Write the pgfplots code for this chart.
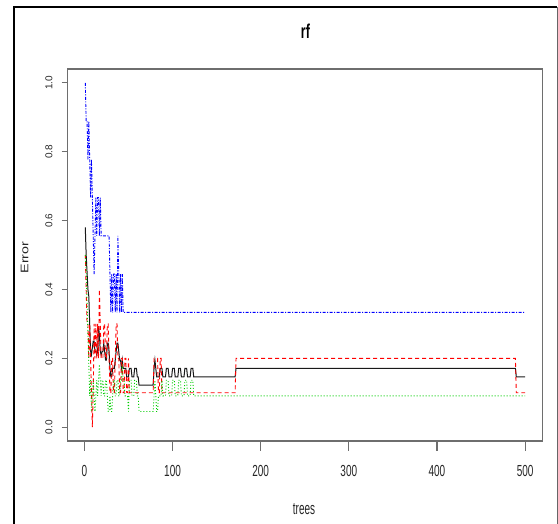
\documentclass[border=0pt]{standalone}
\usepackage{fontspec}
\setmainfont{Liberation Sans}
\usepackage{graphicx}
\usepackage{pgfplots}
\pgfplotsset{compat=1.18}
\definecolor{rgreen}{RGB}{0,205,0}
\definecolor{boxgray}{RGB}{110,110,110}
\newcommand{\hs}[1]{\scalebox{1}[1.6]{#1}}
\begin{document}
\begin{tikzpicture}
\begin{axis}[
  at={(0pt,0pt)}, anchor=south west,
  scale only axis, width=475pt, height=372pt,
  xmin=-18.96, xmax=519.96, ymin=-0.04, ymax=1.04,
  axis line style={boxgray, line width=1.2pt},
  tick align=outside, tick pos=left,
  major tick length=6pt,
  ytick style={boxgray, line width=1.2pt},
  xtick=\empty,
  ytick={0,0.2,0.4,0.6,0.8,1},
  yticklabels={0.0,0.2,0.4,0.6,0.8,1.0},
  yticklabel style={font=\fontsize{10}{12}\selectfont, text=black!85, rotate=90, anchor=south, inner sep=0pt},
  yticklabel shift=9pt,
  title={\scalebox{1}[1.6]{\bfseries rf}},
  title style={font=\fontsize{12.5}{14}\selectfont, at={(axis description cs:0.5006,1.1008)}, anchor=center, yshift=-6pt, inner sep=0pt},
  xlabel={\scalebox{1}[1.7]{trees}},
  xlabel style={font=\fontsize{10}{12}\selectfont, text=black!85, at={(axis description cs:0.4975,-0.1841)}, anchor=center, inner sep=0pt},
  ylabel={\scalebox{1.3}[1]{Error}},
  ylabel style={font=\fontsize{11}{13}\selectfont, text=black!85, at={(axis description cs:-0.0909,0.493)}, anchor=center, inner sep=0pt},
  clip=true,
]
% OOB error (black, solid)
\addplot[black!90, line width=1pt, mark=none] coordinates {
(1,0.58)(2,0.50)(3,0.45)(4,0.40)(5,0.38)(6,0.30)(7,0.22)(8,0.21)(9,0.23)(10,0.25)
(11,0.25)(12,0.22)(13,0.22)(14,0.21)(15,0.22)(16,0.29)(17,0.27)(18,0.22)(19,0.21)
(20,0.2195)(21,0.2195)(22,0.2439)(23,0.2195)(24,0.1951)(25,0.1951)(26,0.2439)(27,0.2439)(28,0.2195)(29,0.1707)(30,0.1463)
(31,0.1463)(32,0.1707)(33,0.1707)(34,0.1707)(35,0.1951)(36,0.2195)(37,0.2439)(38,0.2439)(39,0.2195)(40,0.1951)
(41,0.1951)(42,0.1707)(43,0.1951)(44,0.1707)(45,0.1707)(46,0.1707)(47,0.1707)(48,0.1463)(49,0.1463)(50,0.1463)
(51,0.1707)(52,0.1707)(53,0.1707)(54,0.1463)(55,0.1463)(56,0.1463)(57,0.1707)(58,0.1707)(59,0.1707)(60,0.1463)
(61,0.1463)(62,0.1220)(78,0.1220)(79,0.1707)(80,0.1951)(81,0.1707)(82,0.1463)(85,0.1463)(86,0.1707)(88,0.1707)
(89,0.1463)(92,0.1463)(93,0.1707)(95,0.1707)(96,0.1463)(99,0.1463)(100,0.1707)(102,0.1707)(103,0.1463)(106,0.1463)
(107,0.1707)(109,0.1707)(110,0.1463)(113,0.1463)(114,0.1707)(116,0.1707)(117,0.1463)(120,0.1463)(121,0.1707)(123,0.1707)
(124,0.1463)(171,0.1463)(172,0.1707)(489,0.1707)(490,0.1463)(500,0.1463)
};
% class 1 (red, dashed)
\addplot[red, line width=0.9pt, mark=none, dash pattern=on 4pt off 3pt] coordinates {
(1,0.5)(2,0.4)(3,0.3)(4,0.3)(5,0.2)(6,0.3)(7,0.2)(8,0.1)(9,0.0)(10,0.1)
(11,0.3)(12,0.2)(13,0.3)(14,0.2)(15,0.3)(16,0.2)(17,0.4)(18,0.3)(19,0.2)(20,0.2)
(21,0.2)(22,0.3)(23,0.3)(24,0.2)(25,0.2)(26,0.3)(27,0.3)(28,0.2)(29,0.1)(30,0.1)
(31,0.2)(32,0.2)(33,0.1)(34,0.1)(35,0.2)(36,0.3)(37,0.3)(38,0.2)(39,0.2)(40,0.1)
(41,0.1)(42,0.2)(43,0.2)(44,0.1)(45,0.1)(46,0.2)(47,0.2)(48,0.1)(49,0.1)(50,0.2)
(51,0.1)(78,0.1)(79,0.2)(83,0.2)(84,0.1)(85,0.1)(86,0.2)(87,0.2)(88,0.1)
(171,0.1)(172,0.2)(489,0.2)(490,0.1)(500,0.1)
};
% class 2 (green, dotted)
\addplot[rgreen, line width=0.9pt, mark=none, dash pattern=on 1pt off 2pt] coordinates {
(1,0.5)(2,0.4545)(3,0.3636)(4,0.2727)(5,0.1818)(6,0.0909)(7,0.1364)(8,0.0455)(9,0.0909)(10,0.1364)
(11,0.0909)(12,0.0455)(13,0.0909)(14,0.1364)(15,0.0909)(16,0.1364)(17,0.1818)(18,0.1364)(19,0.0909)(20,0.1364)
(21,0.1364)(22,0.0909)(23,0.0909)(24,0.1364)(25,0.1364)(26,0.0909)(27,0.0455)(28,0.0455)(29,0.0909)(30,0.0455)
(31,0.0455)(32,0.0909)(33,0.1364)(34,0.1364)(35,0.0909)(36,0.0909)(37,0.1364)(38,0.1364)(39,0.0909)(40,0.0909)
(41,0.1364)(42,0.1364)(43,0.1818)(44,0.1364)(45,0.1364)(46,0.0909)(49,0.0909)(50,0.0455)(51,0.1364)(53,0.1364)
(54,0.0909)(56,0.0909)(57,0.1364)(59,0.1364)(60,0.0909)(61,0.0909)(62,0.0455)(78,0.0455)
(79,0.0909)(80,0.1364)(81,0.0909)(82,0.0455)(83,0.0455)(84,0.0909)(87,0.0909)(88,0.1364)(89,0.0909)(92,0.0909)
(93,0.1364)(95,0.1364)(96,0.0909)(99,0.0909)(100,0.1364)(102,0.1364)(103,0.0909)(106,0.0909)(107,0.1364)(109,0.1364)
(110,0.0909)(113,0.0909)(114,0.1364)(116,0.1364)(117,0.0909)(120,0.0909)(121,0.1364)(123,0.1364)(124,0.0909)(500,0.0909)
};
% class 3 (blue, dot-dash)
\addplot[blue, line width=0.9pt, mark=none, dash pattern=on 3pt off 1.5pt on 1pt off 1.5pt] coordinates {
(1,1.0)(2,0.8889)(3,0.8889)(4,0.7778)(5,0.8889)(6,0.7778)(7,0.6667)(8,0.7778)(9,0.6667)(10,0.5556)
(11,0.4444)(12,0.5556)(13,0.6667)(14,0.5556)(15,0.6667)(16,0.6667)(17,0.5556)(18,0.6667)(19,0.5556)(28,0.5556)
(29,0.4444)(30,0.3333)(31,0.4444)(32,0.3333)(33,0.4444)(34,0.4444)(35,0.3333)(36,0.4444)(37,0.3333)(38,0.5556)
(39,0.4444)(40,0.3333)(41,0.4444)(42,0.3333)(43,0.4444)(44,0.3333)(500,0.3333)
};
\end{axis}
% second axis: x ticks (longer, as in the reference) and their labels
\begin{axis}[
  at={(0pt,0pt)}, anchor=south west,
  scale only axis, width=475pt, height=372pt,
  xmin=-18.96, xmax=519.96, ymin=-0.04, ymax=1.04,
  axis line style={draw=none},
  tick align=outside, tick pos=left,
  major tick length=10pt,
  xtick style={draw=boxgray, line width=1.2pt},
  ytick=\empty,
  xtick={0,100,200,300,400,500},
  xticklabels={\hs{0},\hs{100},\hs{200},\hs{300},\hs{400},\hs{500}},
  xticklabel style={font=\fontsize{10}{12}\selectfont, text=black!85, anchor=north, inner sep=0pt},
  xticklabel shift=14pt,
]
\end{axis}
\draw[black, line width=2pt] (-53.7pt,-100pt) -- (-53.7pt,434pt) -- (489.3pt,434pt);
\draw[black!60, line width=1pt] (489.3pt,434pt) -- (489.3pt,-100pt);
\pgfresetboundingbox
\path[use as bounding box] (-67.7pt,-83pt) rectangle (490.3pt,441pt);
\end{tikzpicture}
\end{document}
